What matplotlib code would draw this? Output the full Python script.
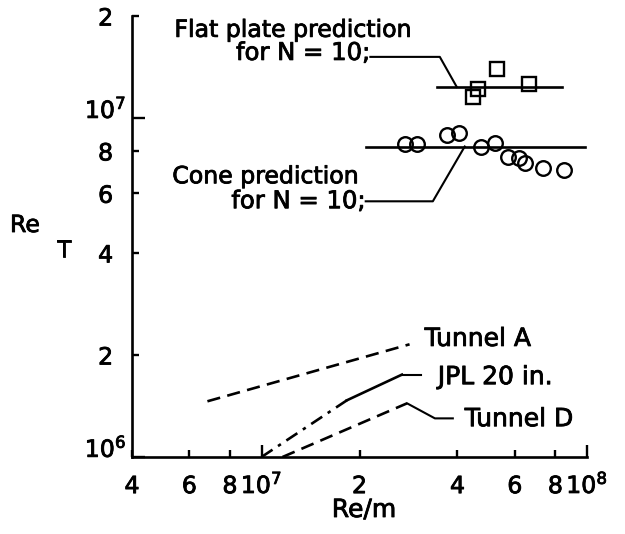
import matplotlib
matplotlib.use('Agg')
import matplotlib.pyplot as plt
import matplotlib.patheffects as pe
from matplotlib.ticker import FixedLocator, FixedFormatter

plt.rcParams['font.family'] = ['DejaVu Sans']
plt.rcParams['mathtext.default'] = 'regular'

flat_x = [4.46e7, 4.62e7, 5.28e7, 6.63e7]
flat_y = [1.154e7, 1.218e7, 1.396e7, 1.26e7]
cone_x = [2.75e7, 3.0e7, 3.71e7, 4.04e7, 4.72e7, 5.21e7, 5.71e7, 6.18e7, 6.44e7, 7.32e7, 8.5e7]
cone_y = [8.38e6, 8.38e6, 8.91e6, 9.03e6, 8.21e6, 8.44e6, 7.67e6, 7.61e6, 7.36e6, 7.11e6, 7.02e6]

# predictions
flat_pred_x = [3.45e7, 8.38e7]
flat_pred_y = [1.235e7, 1.235e7]
cone_pred_x = [2.10e7, 9.86e7]
cone_pred_y = [8.24e6, 8.24e6]

# tunnel limits
tunnel_a_x = [6.82e6, 2.85e7]
tunnel_a_y = [1.46e6, 2.15e6]
jpl_x = [1.0e7, 1.83e7, 2.7e7]
jpl_y = [1.0e6, 1.47e6, 1.75e6]
tunnel_d_x = [1.16e7, 2.8e7]
tunnel_d_y = [1.0e6, 1.44e6]

# ticks
x_major = [1e7, 1e8]
x_major_lbl = ['$10^7$', '$10^8$']
x_minor = [4e6, 6e6, 8e6, 2e7, 4e7, 6e7, 8e7]
x_minor_lbl = ['4', '6', '8', '2', '4', '6', '8']
y_major = [1e6, 1e7]
y_major_lbl = ['$10^6$', '$10^7$']
y_minor = [2e6, 4e6, 6e6, 8e6, 2e7]
y_minor_lbl = ['2', '4', '6', '8', '2']

fs = 17
k = 'black'
heavy = [pe.withStroke(linewidth=0.6, foreground=k)]

fig = plt.figure(figsize=(6.25, 5.34), dpi=100)
ax = fig.add_axes([132 / 625, 1 - 457 / 534, (587 - 132) / 625, (457 - 16) / 534])
ax.set_xscale('log')
ax.set_yscale('log')
ax.set_xlim(4e6, 1e8)
ax.set_ylim(1e6, 2e7)

# data
ax.plot(flat_pred_x, flat_pred_y, color=k, lw=1.9)
ax.plot(cone_pred_x, cone_pred_y, color=k, lw=1.9)
ax.plot(flat_x, flat_y, ls='none', marker='s', ms=10, mfc='none', mec=k, mew=1.7)
ax.plot(cone_x, cone_y, ls='none', marker='o', ms=10.5, mfc='none', mec=k, mew=1.7)

ax.plot(tunnel_a_x, tunnel_a_y, color=k, lw=1.9, ls=(0, (5, 2.8)))
ax.plot(jpl_x[:2], jpl_y[:2], color=k, lw=1.9, ls=(0, (5, 2.5, 1.3, 2.5)))
ax.plot(jpl_x[1:], jpl_y[1:], color=k, lw=1.9)
ax.plot(tunnel_d_x, tunnel_d_y, color=k, lw=1.9, ls=(0, (5, 2.8)))

# leader lines
ax.plot([2.16e7, 3.53e7, 3.98e7], [1.515e7, 1.515e7, 1.235e7], color=k, lw=1.5)
ax.plot([2.09e7, 3.36e7, 4.21e7], [5.68e6, 5.68e6, 8.24e6], color=k, lw=1.5)
ax.plot([2.7e7, 3.1e7], [1.75e6, 1.75e6], color=k, lw=1.5)
ax.plot([2.8e7, 3.41e7, 3.87e7], [1.44e6, 1.30e6, 1.30e6], color=k, lw=1.5)

# annotations
ax.text(5.40e6, 1.736e7, 'Flat plate prediction', fontsize=fs, ha='left', va='baseline', path_effects=heavy)
ax.text(2.16e7, 1.484e7, 'for N = 10;', fontsize=fs + 0.5, ha='right', va='baseline', path_effects=heavy)
ax.text(5.32e6, 6.42e6, 'Cone prediction', fontsize=fs, ha='left', va='baseline', path_effects=heavy)
ax.text(2.09e7, 5.42e6, 'for N = 10;', fontsize=fs + 0.5, ha='right', va='baseline', path_effects=heavy)
ax.text(3.17e7, 2.23e6, 'Tunnel A', fontsize=18, ha='left', va='center', path_effects=heavy)
ax.text(3.48e7, 1.72e6, 'JPL 20 in.', fontsize=18, ha='left', va='center', path_effects=heavy)
ax.text(4.21e7, 1.293e6, 'Tunnel D', fontsize=18, ha='left', va='center', path_effects=heavy)

# axes styling
for s in ['top', 'right']:
    ax.spines[s].set_visible(False)
for s in ['left', 'bottom']:
    ax.spines[s].set_linewidth(1.9)

ax.xaxis.set_major_locator(FixedLocator(x_major))
ax.xaxis.set_major_formatter(FixedFormatter(x_major_lbl))
ax.xaxis.set_minor_locator(FixedLocator(x_minor))
ax.xaxis.set_minor_formatter(FixedFormatter(x_minor_lbl))
ax.yaxis.set_major_locator(FixedLocator(y_major))
ax.yaxis.set_major_formatter(FixedFormatter(y_major_lbl))
ax.yaxis.set_minor_locator(FixedLocator(y_minor))
ax.yaxis.set_minor_formatter(FixedFormatter(y_minor_lbl))

ax.tick_params(which='both', direction='in', width=1.7, labelsize=fs, colors=k)
ax.tick_params(which='major', length=9)
ax.tick_params(which='minor', length=5)
ax.tick_params(axis='x', which='both', pad=26)
ax.tick_params(axis='y', which='both', pad=19)

plt.setp(ax.get_xticklabels(which='both'), va='baseline', path_effects=heavy)
plt.setp(ax.get_yticklabels(which='both'), ha='center', path_effects=heavy)
plt.setp(ax.get_yticklabels(), va='baseline')

fig.text(10 / 625, 1 - 232 / 534, 'Re', fontsize=fs, ha='left', va='baseline', path_effects=heavy)
fig.text(57 / 625, 1 - 257 / 534, 'T', fontsize=fs, ha='left', va='baseline', path_effects=heavy)
fig.text(364 / 625, 1 - 517 / 534, 'Re/m', fontsize=18, ha='center', va='baseline', path_effects=heavy)

fig.savefig('out.png', dpi=100)
